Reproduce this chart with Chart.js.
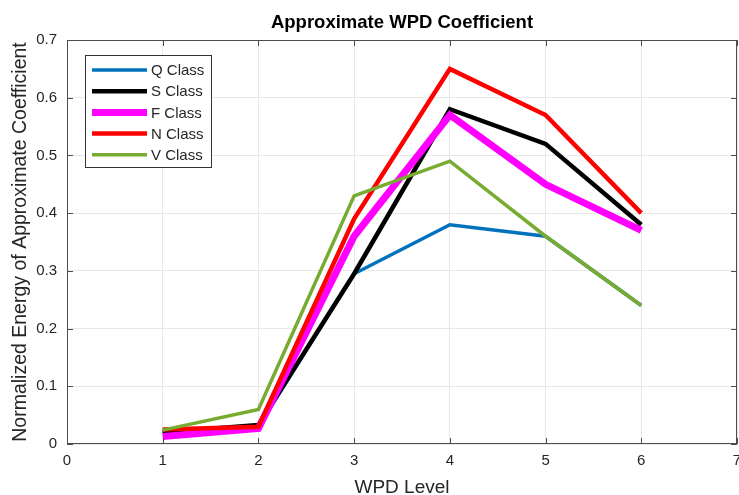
<!DOCTYPE html>
<html>
<head>
<meta charset="utf-8">
<title>Approximate WPD Coefficient</title>
<script src="https://cdn.jsdelivr.net/npm/chart.js@4.4.1/dist/chart.umd.min.js"></script>
<style>
  html, body { margin: 0; padding: 0; background: #fff; }
  #wrap { width: 739px; height: 495px; }
</style>
</head>
<body>
<div id="wrap"><canvas id="myChart" width="739" height="495"></canvas></div>
<script>
// WPD levels on the x axis
const levels = [1, 2, 3, 4, 5, 6];

// normalized energy per class
const qClass = [0.02, 0.03, 0.295, 0.38, 0.36, 0.24];
const sClass = [0.02, 0.033, 0.295, 0.58, 0.52, 0.38];
const fClass = [0.013, 0.027, 0.36, 0.57, 0.45, 0.37];
const nClass = [0.025, 0.03, 0.39, 0.65, 0.57, 0.40];
const vClass = [0.024, 0.06, 0.43, 0.49, 0.36, 0.24];

const seriesNames = ['Q Class', 'S Class', 'F Class', 'N Class', 'V Class'];
const seriesValues = [qClass, sClass, fClass, nClass, vClass];
const seriesColors = ['#0072BD', '#000000', '#FF00FF', '#FF0000', '#77AC30'];
const seriesWidths = [3.5, 4.5, 7, 4.5, 3.5];

const FONT = 'Helvetica, Arial, "Liberation Sans", sans-serif';
const TEXT = '#262626';

const datasets = seriesNames.map((name, i) => ({
    label: name,
    data: levels.map((lv, j) => ({ x: lv, y: seriesValues[i][j] })),
    borderColor: seriesColors[i],
    backgroundColor: seriesColors[i],
    borderWidth: seriesWidths[i],
    pointRadius: 0,
    tension: 0,
    fill: false,
    // later classes sit on top
    order: seriesNames.length - i
}));

// box around the axes, inward ticks and the legend inside the plot
const boxAndLegend = {
    id: 'boxAndLegend',
    afterDraw(chart) {
        const { ctx, chartArea: a, scales } = chart;
        ctx.save();
        ctx.strokeStyle = '#4d4d4d';
        ctx.lineWidth = 1;
        ctx.strokeRect(a.left + 0.5, a.top + 0.5, a.right - a.left - 1, a.bottom - a.top - 1);

        ctx.beginPath();
        scales.x.ticks.forEach(t => {
            const px = Math.round(scales.x.getPixelForValue(t.value)) + 0.5;
            ctx.moveTo(px, a.bottom); ctx.lineTo(px, a.bottom - 6);
            ctx.moveTo(px, a.top); ctx.lineTo(px, a.top + 6);
        });
        scales.y.ticks.forEach(t => {
            const py = Math.round(scales.y.getPixelForValue(t.value)) + 0.5;
            ctx.moveTo(a.left, py); ctx.lineTo(a.left + 6, py);
            ctx.moveTo(a.right, py); ctx.lineTo(a.right - 6, py);
        });
        ctx.stroke();

        // legend
        const lx = a.left + 18, ly = a.top + 15, lw = 126, lh = 112;
        ctx.fillStyle = '#fff';
        ctx.fillRect(lx, ly, lw, lh);
        ctx.strokeStyle = '#333';
        ctx.strokeRect(lx + 0.5, ly + 0.5, lw, lh);
        ctx.font = '15px ' + FONT;
        ctx.textBaseline = 'middle';
        chart.data.datasets.forEach((ds, i) => {
            const y = ly + 15 + i * 21.2;
            ctx.strokeStyle = ds.borderColor;
            ctx.lineWidth = ds.borderWidth;
            ctx.beginPath();
            ctx.moveTo(lx + 7, y);
            ctx.lineTo(lx + 62, y);
            ctx.stroke();
            ctx.fillStyle = TEXT;
            ctx.fillText(ds.label, lx + 66, y + 1);
        });
        ctx.restore();
    }
};

const ctx = document.getElementById('myChart');

new Chart(ctx, {
    type: 'line',
    data: { datasets: datasets },
    options: {
        responsive: false,
        animation: false,
        layout: { padding: { left: 0, right: 2, top: 0, bottom: 0 } },
        plugins: {
            legend: { display: false },
            tooltip: { enabled: false },
            title: {
                display: true,
                fullSize: false,
                text: 'Approximate WPD Coefficient',
                color: '#000',
                font: { family: FONT, size: 18.5, weight: 'bold', lineHeight: 1.2 },
                padding: { top: 12, bottom: 5.8 }
            }
        },
        scales: {
            x: {
                type: 'linear',
                min: 0,
                max: 7,
                ticks: { stepSize: 1, color: TEXT, padding: 8, font: { family: FONT, size: 15 } },
                grid: { color: '#e8e8e8', drawTicks: false },
                border: { display: false },
                title: {
                    display: true,
                    text: 'WPD Level',
                    color: TEXT,
                    font: { family: FONT, size: 19, lineHeight: 0.8 },
                    padding: { top: 0, bottom: 0 }
                },
                afterFit(scale) {
                    scale.height = 51;
                    // let the axis run to the right edge
                    scale.paddingRight = 0;
                }
            },
            y: {
                min: 0,
                max: 0.7,
                ticks: { stepSize: 0.1, color: TEXT, padding: 10, font: { family: FONT, size: 15 } },
                grid: { color: '#e8e8e8', drawTicks: false },
                border: { display: false },
                title: {
                    display: true,
                    text: 'Normalized Energy of Approximate Coefficient',
                    color: TEXT,
                    font: { family: FONT, size: 19.5, lineHeight: 1.2 },
                    padding: { top: 9, bottom: 0 }
                },
                afterFit(scale) { scale.width = 67; }
            }
        }
    },
    plugins: [boxAndLegend]
});
</script>
</body>
</html>
